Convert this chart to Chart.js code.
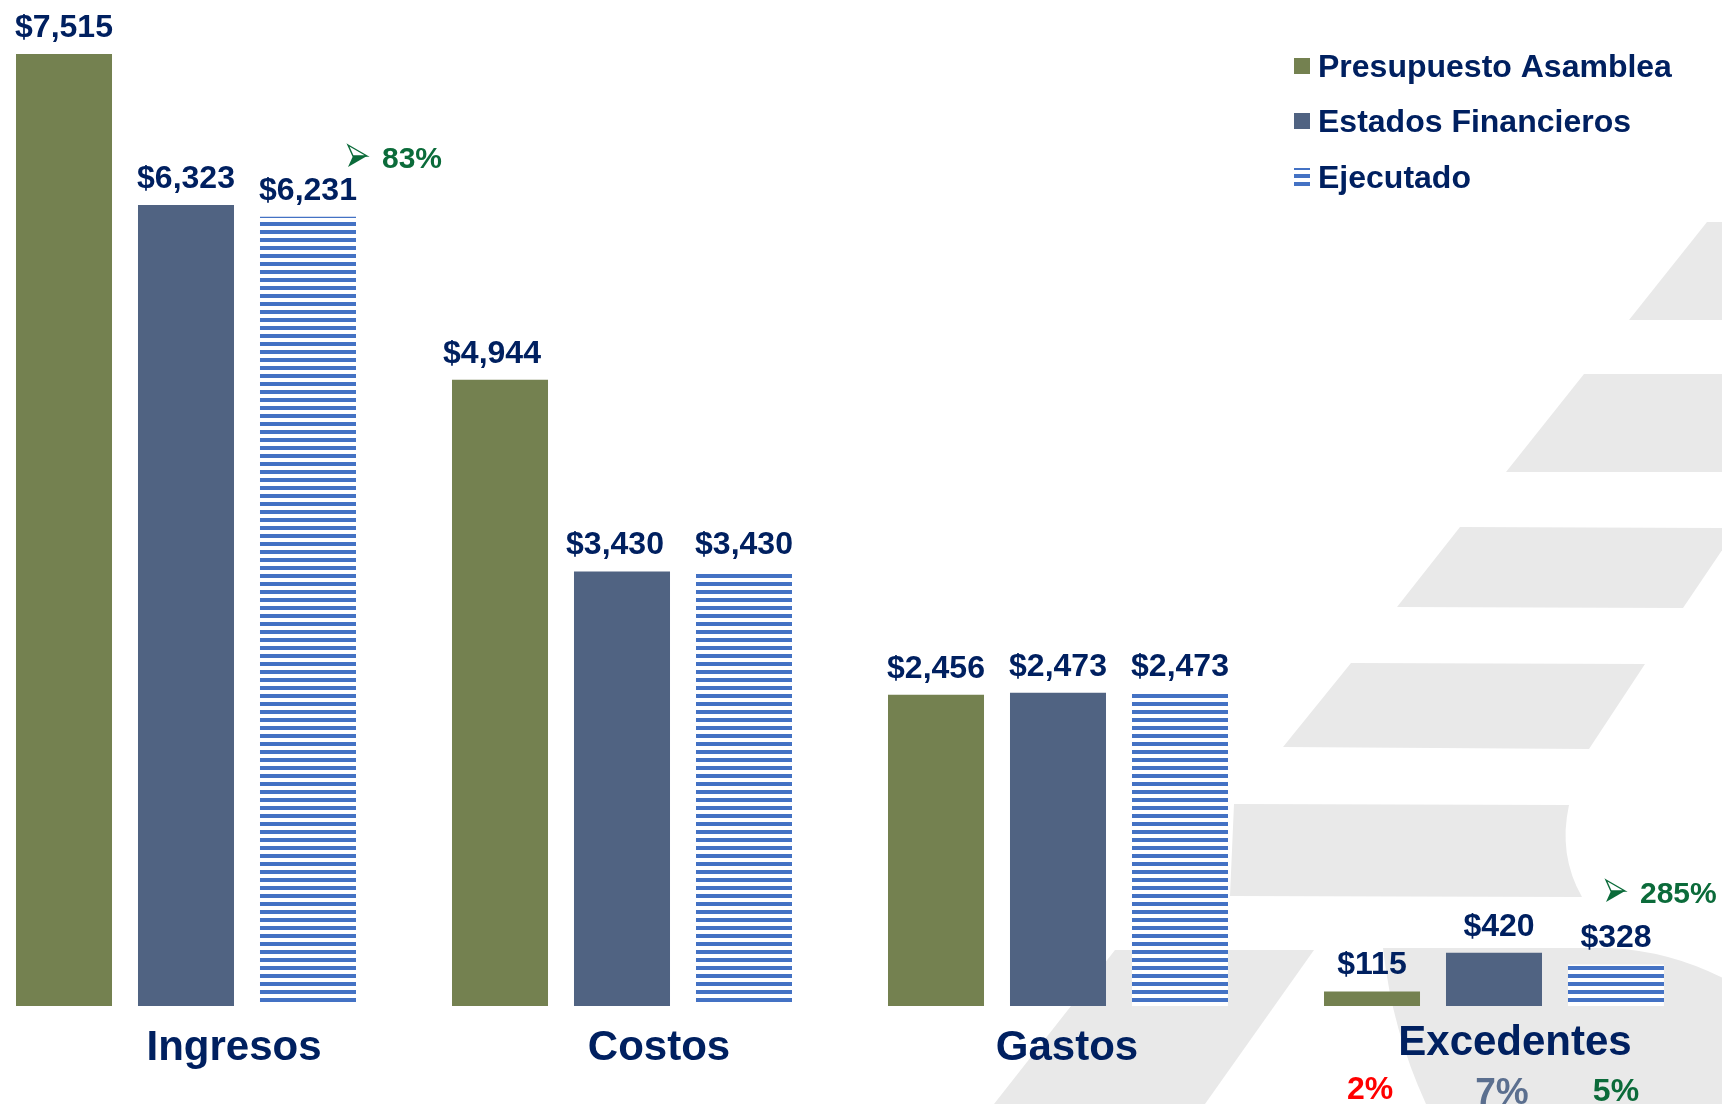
<!DOCTYPE html>
<html lang="es">
<head>
<meta charset="utf-8">
<title>Presupuesto vs Ejecutado</title>
<script src="https://cdn.jsdelivr.net/npm/chart.js@4.4.1/dist/chart.umd.min.js"></script>
<style>
  html, body { margin: 0; padding: 0; background: #fff; overflow: hidden; }
  body { width: 1722px; height: 1104px; position: relative; }
  #grafico { position: absolute; left: -32px; top: 0; }
</style>
</head>
<body>
<canvas id="grafico" width="1754" height="1104"></canvas>
<script>
// --- Datos ---
const categorias = ['Ingresos', 'Costos', 'Gastos', 'Excedentes'];
const presupuestoAsamblea = [7515, 4944, 2456, 115];
const estadosFinancieros = [6323, 3430, 2473, 420];
const ejecutado = [6231, 3430, 2473, 328];
const variaciones = ['83%', '285%'];          // notas con flecha (Ingresos, Excedentes)
const margenExcedentes = ['2%', '7%', '5%'];  // debajo de Excedentes

// --- Estilo ---
const SHIFT = 32; // el canvas empieza 32px a la izquierda de la página
const AZUL_TEXTO = '#002060';
const VERDE_NOTA = '#0B6B3A';
const GRIS_FONDO = '#E9E9E9';
const FUENTE = '"Liberation Sans", Arial, sans-serif';
const labelOffsets = [48, 37, 9, 21];
const labelBaselines = [1060, 1060, 1060, 1055];
// corrimientos manuales de las etiquetas de valor [dataset][categoria]
const valorOffsets = [[0, -8, 0, 0], [0, -7, 0, 5], [0, 0, 0, 0]];
const margenColores = ['#FF0000', '#5B6F8F', VERDE_NOTA];
const margenTamanos = [32, 37, 32];
const margenOffsets = [-2, 8, 0];
const margenBaselines = [1099, 1104, 1101];

function rayado() {
    const c = document.createElement('canvas');
    c.width = 8; c.height = 8;
    const g = c.getContext('2d');
    g.fillStyle = '#ffffff';
    g.fillRect(0, 0, 8, 8);
    g.fillStyle = '#4472C4';
    g.fillRect(0, 0, 8, 2);
    g.fillRect(0, 6, 8, 2);
    return g.createPattern(c, 'repeat');
}

// fondo: logo gris (decorativo)
function dibujarFondo(ctx) {
    ctx.save();
    ctx.translate(SHIFT, 0);
    ctx.fillStyle = GRIS_FONDO;
    const polys = [
        [[1707, 222], [1760, 222], [1760, 320], [1629, 320]],
        [[1584, 374], [1760, 374], [1760, 472], [1506, 472]],
        [[1460, 527], [1737, 528], [1683, 608], [1397, 607]],
        [[1351, 663], [1645, 664], [1589, 749], [1283, 747]],
        [[1115, 950], [1314, 950], [1205, 1104], [994, 1104]]
    ];
    polys.forEach(p => {
        ctx.beginPath();
        ctx.moveTo(p[0][0], p[0][1]);
        p.slice(1).forEach(pt => ctx.lineTo(pt[0], pt[1]));
        ctx.closePath();
        ctx.fill();
    });
    // banda superior del arco
    ctx.beginPath();
    ctx.moveTo(1234, 804);
    ctx.lineTo(1569, 805);
    ctx.quadraticCurveTo(1558, 855, 1582, 897);
    ctx.lineTo(1230, 896);
    ctx.closePath();
    ctx.fill();
    // arco inferior derecho
    ctx.beginPath();
    ctx.moveTo(1383, 948);
    ctx.lineTo(1610, 948);
    ctx.quadraticCurveTo(1690, 952, 1760, 1000);
    ctx.lineTo(1760, 1104);
    ctx.lineTo(1426, 1104);
    ctx.quadraticCurveTo(1392, 1030, 1383, 948);
    ctx.closePath();
    ctx.fill();
    ctx.restore();
}

function flecha(ctx, x, y) {
    ctx.save();
    ctx.fillStyle = VERDE_NOTA;
    ctx.strokeStyle = VERDE_NOTA;
    ctx.lineWidth = 1.4;
    ctx.beginPath();
    ctx.moveTo(x, y + 11); ctx.lineTo(x + 19, y); ctx.lineTo(x + 5, y);
    ctx.closePath();
    ctx.fill();
    ctx.beginPath();
    ctx.moveTo(x, y - 11); ctx.lineTo(x + 19, y); ctx.lineTo(x + 5, y);
    ctx.closePath();
    ctx.stroke();
    ctx.restore();
}

const pluginFondo = {
    id: 'fondo',
    beforeDatasetsDraw(chart) { dibujarFondo(chart.ctx); }
};

const pluginTextos = {
    id: 'textos',
    afterDatasetsDraw(chart) {
        const ctx = chart.ctx;
        const xScale = chart.scales.x;
        ctx.save();

        // valores sobre las barras
        ctx.fillStyle = AZUL_TEXTO;
        ctx.font = 'bold 32px ' + FUENTE;
        ctx.textAlign = 'center';
        ctx.textBaseline = 'alphabetic';
        chart.data.datasets.forEach((ds, i) => {
            chart.getDatasetMeta(i).data.forEach((bar, j) => {
                ctx.fillText('$' + ds.data[j].toLocaleString('en-US'), bar.x + valorOffsets[i][j], bar.y - 17);
            });
        });

        // categorías
        ctx.font = 'bold 42px ' + FUENTE;
        categorias.forEach((c, i) => {
            ctx.fillText(c, xScale.getPixelForValue(i) + labelOffsets[i], labelBaselines[i]);
        });

        // márgenes de excedentes
        margenExcedentes.forEach((m, i) => {
            const bar = chart.getDatasetMeta(i).data[3];
            ctx.fillStyle = margenColores[i];
            ctx.font = 'bold ' + margenTamanos[i] + 'px ' + FUENTE;
            ctx.fillText(m, bar.x + margenOffsets[i], margenBaselines[i]);
        });

        // notas con flecha
        ctx.translate(SHIFT, 0);
        ctx.textAlign = 'left';
        ctx.fillStyle = VERDE_NOTA;
        ctx.font = 'bold 30px ' + FUENTE;
        flecha(ctx, 348, 156);
        ctx.fillStyle = VERDE_NOTA;
        ctx.fillText(variaciones[0], 382, 168);
        flecha(ctx, 1606, 891);
        ctx.fillStyle = VERDE_NOTA;
        ctx.fillText(variaciones[1], 1640, 903);

        // leyenda
        ctx.font = 'bold 32px ' + FUENTE;
        const filas = [66, 121, 177];
        chart.data.datasets.forEach((ds, i) => {
            const y = filas[i];
            ctx.fillStyle = ds.backgroundColor;
            if (i === 2) ctx.fillRect(1294, 168, 16, 18);
            else ctx.fillRect(1294, y - 8, 16, 16);
            ctx.fillStyle = AZUL_TEXTO;
            ctx.fillText(ds.label, 1318, y + 11);
        });
        ctx.restore();
    }
};

const patron = rayado();

new Chart(document.getElementById('grafico'), {
    type: 'bar',
    data: {
        labels: categorias,
        datasets: [
            { label: 'Presupuesto Asamblea', data: presupuestoAsamblea, backgroundColor: '#748150' },
            { label: 'Estados Financieros', data: estadosFinancieros, backgroundColor: '#506382' },
            { label: 'Ejecutado', data: ejecutado, backgroundColor: patron }
        ]
    },
    options: {
        responsive: false,
        animation: false,
        events: [],
        layout: { padding: { left: 0, right: 10, top: 0, bottom: 98 } },
        datasets: { bar: { categoryPercentage: 0.8394, barPercentage: 0.787, borderWidth: 0 } },
        plugins: { legend: { display: false }, tooltip: { enabled: false } },
        scales: {
            x: { display: false },
            y: { display: false, min: 0, max: 7941 }
        }
    },
    plugins: [pluginFondo, pluginTextos]
});
</script>
</body>
</html>
